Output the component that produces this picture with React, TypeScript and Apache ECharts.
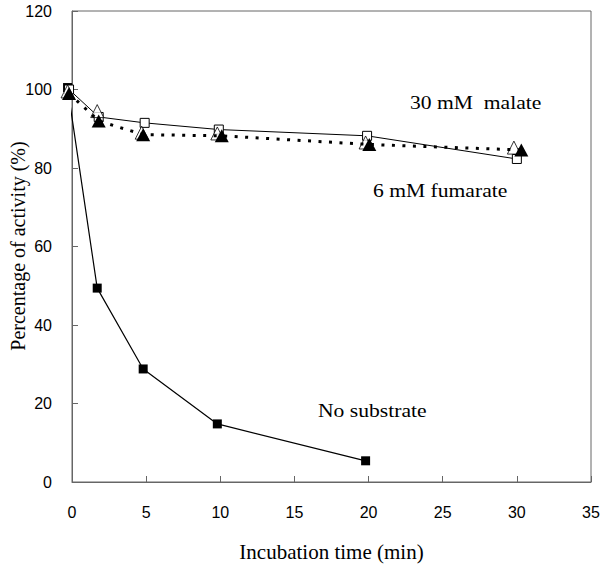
import React, { useEffect, useRef } from "react";
import * as echarts from "echarts";

// Incubation times (min), per series
const timeNoSubstrate = [-0.3, 1.7, 4.8, 9.8, 19.8];
const activityNoSubstrate = [100.5, 49.4, 28.8, 14.8, 5.4];

const timeMalate = [-0.2, 1.8, 4.9, 9.9, 19.9, 30];
const activityMalate = [100, 93, 91.5, 89.8, 88.2, 82.3];

const timeFumarate = [-0.2, 1.8, 4.8, 10.1, 20.05, 30.3];
const activityFumarate = [99, 92, 88.5, 88.2, 86, 84.6];

const timeOpenTriangle = [-0.3, 1.7, 4.7, 9.8, 19.8, 29.8];
const activityOpenTriangle = [99.5, 94.5, 89, 88.8, 86.5, 85.2];

const xTicks = { min: 0, max: 35, interval: 5 };
const yTicks = { min: 0, max: 120, interval: 20 };

const xTitle = "Incubation time (min)";
const yTitle = "Percentage of activity (%)";
const labelMalate = "30 mM  malate";
const labelFumarate = "6 mM fumarate";
const labelNoSubstrate = "No substrate";

const pairs = (xs: number[], ys: number[]) => xs.map((x, i) => [x, ys[i]]);

export default function App() {
  const ref = useRef<HTMLDivElement>(null);
  useEffect(() => {
    if (!ref.current) return;
    const chart = echarts.init(ref.current, undefined, { renderer: "svg" });
    const serif = "'Liberation Serif', 'Times New Roman', serif";
    const sans = "'Liberation Sans', Arial, sans-serif";
    const axisColor = "#666";
    const annot = (text: string, x: number, y: number) => ({
      type: "text",
      x,
      y,
      scaleX: 1.2,
      scaleY: 1,
      style: {
        text,
        fontFamily: serif,
        fontSize: 18,
        fill: "#000",
        align: "left",
        verticalAlign: "middle",
      },
    });
    const option: any = {
      animation: false,
      backgroundColor: "#fff",
      grid: {
        left: 72,
        right: 11,
        top: 11,
        bottom: 89,
        show: true,
        borderColor: axisColor,
        borderWidth: 1,
        containLabel: false,
        outerBoundsMode: "none",
      },
      xAxis: {
        type: "value",
        ...xTicks,
        axisLine: { show: true, lineStyle: { color: axisColor, width: 1 } },
        axisTick: { show: true, inside: true, length: 6, lineStyle: { color: axisColor } },
        splitLine: { show: false },
        axisLabel: { color: "#000", fontFamily: sans, fontSize: 16, margin: 22 },
        name: xTitle,
        nameLocation: "middle",
        nameGap: 59,
        nameTextStyle: { fontFamily: serif, fontSize: 21, color: "#000" },
      },
      yAxis: {
        type: "value",
        ...yTicks,
        axisLine: { show: true, lineStyle: { color: axisColor, width: 1 } },
        axisTick: { show: true, inside: true, length: 6, lineStyle: { color: axisColor } },
        splitLine: { show: false },
        axisLabel: { color: "#000", fontFamily: sans, fontSize: 16, margin: 20 },
      },
      series: [
        {
          name: "No substrate",
          type: "line",
          data: pairs(timeNoSubstrate, activityNoSubstrate),
          symbol: "rect",
          symbolSize: 9,
          showAllSymbol: true,
          clip: false,
          lineStyle: { color: "#000", width: 1.2 },
          itemStyle: { color: "#000" },
          z: 2,
        },
        {
          name: "30 mM malate",
          type: "line",
          data: pairs(timeMalate, activityMalate),
          symbol: "rect",
          symbolSize: 9,
          showAllSymbol: true,
          clip: false,
          lineStyle: { color: "#000", width: 1 },
          itemStyle: { color: "#fff", borderColor: "#000", borderWidth: 1 },
          z: 3,
        },
        {
          name: "open triangles",
          type: "scatter",
          data: pairs(timeOpenTriangle, activityOpenTriangle),
          symbol: "triangle",
          symbolSize: [13, 13],
          clip: false,
          itemStyle: { color: "#fff", borderColor: "#000", borderWidth: 1 },
          z: 4,
        },
        {
          name: "6 mM fumarate",
          type: "line",
          data: pairs(timeFumarate, activityFumarate),
          symbol: "triangle",
          symbolSize: [14, 13],
          showAllSymbol: true,
          clip: false,
          lineStyle: { color: "#000", width: 3, type: [3, 7.5], cap: "butt" },
          itemStyle: { color: "#000" },
          z: 5,
        },
      ],
      graphic: [
        {
          type: "text",
          x: 18,
          y: 246,
          rotation: Math.PI / 2,
          style: {
            text: yTitle,
            fontFamily: serif,
            fontSize: 20,
            fill: "#000",
            align: "center",
            verticalAlign: "middle",
          },
        },
        annot(labelMalate, 410, 103),
        annot(labelFumarate, 373, 191),
        annot(labelNoSubstrate, 318, 411),
      ],
    };
    chart.setOption(option);
    return () => chart.dispose();
  }, []);
  return (
    <div
      ref={ref}
      style={{ position: "fixed", left: 0, top: 0, width: 602, height: 571, background: "#fff" }}
    />
  );
}
